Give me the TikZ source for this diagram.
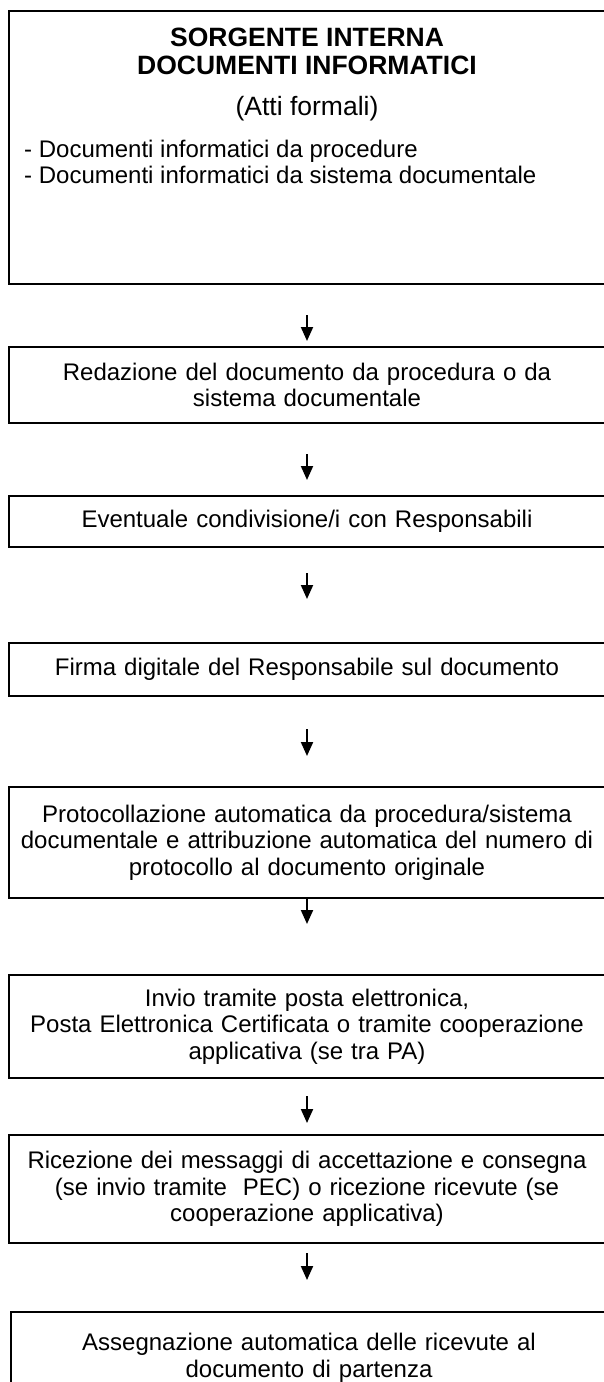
\documentclass[tikz,border=0pt]{standalone}
\usepackage{fontspec}
\setmainfont{Liberation Sans}
\usetikzlibrary{positioning,arrows.meta}
\newcommand{\boxfont}{\fontsize{24}{26.5}\selectfont}
\newcommand{\headfont}{\fontsize{26.5}{28}\selectfont}

\begin{document}
\begin{tikzpicture}[x=1pt,y=-1pt,
  box/.style={draw,line width=2pt,minimum width=596pt,text width=576pt,align=center,inner sep=10pt,font=\boxfont},
  arr/.style={-{Triangle[width=12pt,length=14pt]},line width=2pt}]
  \useasboundingbox (0,0) rectangle (603,1382);

  \node (src) [box,minimum height=273pt] at (307,147.5) {};
  \node (srctitle) [align=center,inner sep=0pt,font=\headfont\bfseries] at (307,51) {SORGENTE INTERNA\\DOCUMENTI INFORMATICI};
  \node (srcsub) [inner sep=0pt,font=\headfont] at (307,109) {(Atti formali)};
  \node (srclist) [anchor=west,align=left,inner sep=0pt,font=\boxfont] at (24,162) {- Documenti informatici da procedure\\- Documenti informatici da sistema documentale};

  \node (draft) [box,minimum height=76pt] at (307,385) {Redazione del documento da procedura o da\\sistema documentale};
  \node (share) [box,minimum height=51pt,minimum width=589pt] at (307,521.5) {Eventuale condivisione/i con Responsabili};
  \node (sign) [box,minimum height=53pt] at (307,669.5) {Firma digitale del Responsabile sul documento};
  \node (prot) [box,minimum height=111pt] at (307,842.5) {Protocollazione automatica da procedura/sistema\\documentale e attribuzione automatica del numero di\\protocollo al documento originale};
  \node (send) [box,minimum height=103pt] at (307,1026.5) {Invio tramite posta elettronica,\\Posta Elettronica Certificata o tramite cooperazione\\applicativa (se tra PA)};
  \node (recv) [box,minimum height=108pt] at (307,1189) {Ricezione dei messaggi di accettazione e consegna\\(se invio tramite~ PEC) o ricezione ricevute (se\\cooperazione applicativa)};
  \node (assign) [box,minimum height=92pt,minimum width=592pt] at (309,1358) {Assegnazione automatica delle ricevute al\\documento di partenza};

  \draw [arr,shorten <=30pt,shorten >=5pt] (src) -- (draft);
  \draw [arr,shorten <=30pt,shorten >=15pt] (draft) -- (share);
  \draw [arr,shorten <=25pt,shorten >=43pt] (share) -- (sign);
  \draw [arr,shorten <=32pt,shorten >=30pt] (sign) -- (prot);
  \draw [arr,shorten <=0pt,shorten >=50pt] (prot) -- (send);
  \draw [arr,shorten <=17pt,shorten >=11pt] (send) -- (recv);
  \draw [arr,shorten <=9pt,shorten >=31pt] (recv) -- (assign.north -| recv.south);
\end{tikzpicture}
\end{document}
